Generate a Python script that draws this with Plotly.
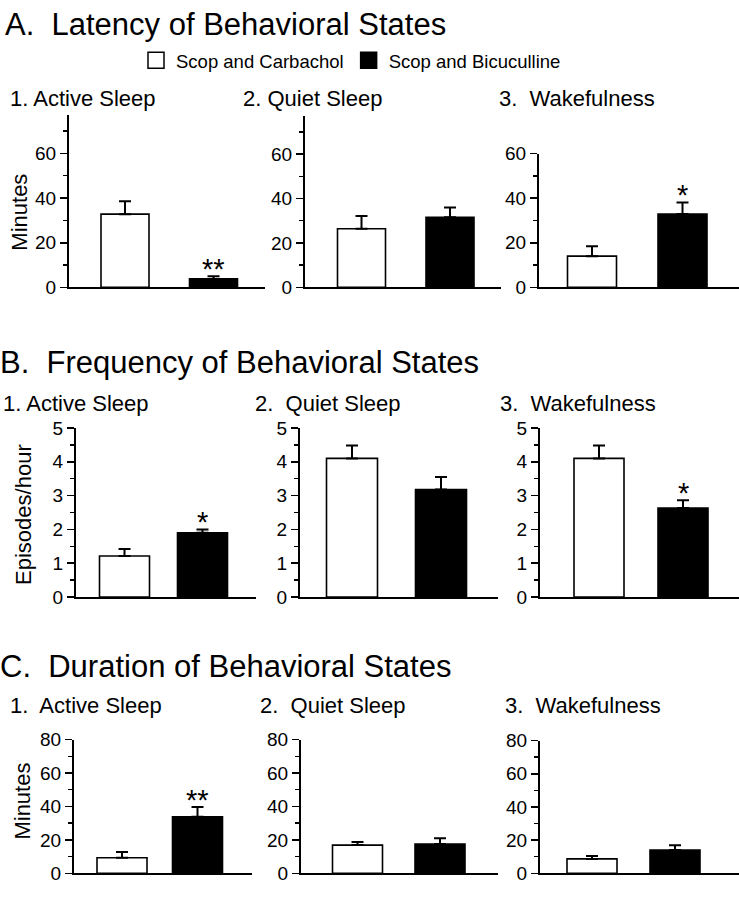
import plotly.graph_objects as go

W, H = 739, 899
FONT = "Liberation Sans, Arial, Helvetica, sans-serif"

# ---------------- data ----------------
groups = ["Scop and Carbachol", "Scop and Bicuculline"]
bar_colors = ["white", "black"]

latency_titles = ["1. Active Sleep", "2. Quiet Sleep", "3.\u00a0 Wakefulness"]
latency_mean = [[32.8, 3.8], [26.4, 31.6], [14.0, 32.9]]
latency_sem = [[5.8, 1.2], [5.7, 4.4], [4.4, 5.2]]
latency_sig = [["", "**"], ["", ""], ["", "*"]]

freq_titles = ["1. Active Sleep", "2.\u00a0 Quiet Sleep", "3.\u00a0 Wakefulness"]
freq_mean = [[1.21, 1.90], [4.10, 3.18], [4.10, 2.63]]
freq_sem = [[0.21, 0.10], [0.38, 0.37], [0.38, 0.23]]
freq_sig = [["", "*"], ["", ""], ["", "*"]]

dur_titles = ["1.\u00a0 Active Sleep", "2.\u00a0 Quiet Sleep", "3.\u00a0 Wakefulness"]
dur_mean = [[9.3, 33.8], [16.9, 17.5], [8.7, 14.0]]
dur_sem = [[3.5, 5.9], [1.8, 3.5], [1.8, 2.9]]
dur_sig = [["", "**"], ["", ""], ["", ""]]

panel_titles = ["A.\u00a0 Latency of Behavioral States",
                "B.\u00a0 Frequency of Behavioral States",
                "C.\u00a0 Duration of Behavioral States"]
y_titles = ["Minutes", "Episodes/hour", "Minutes"]

# ---------------- layout (pixel geometry) ----------------
rows = [
    dict(means=latency_mean, sems=latency_sem, sig=latency_sig, sub=latency_titles,
         zero=284, dtick=20, minor=10,
         cols=[dict(l=69, r=265, c1=125, c2=213.5, w=48, top=108, ymax=77),
               dict(l=305, r=501, c1=361.5, c2=450, w=48, top=109, ymax=77),
               dict(l=539, r=739, c1=592, c2=682.5, w=49, top=147, ymax=60)],
         title_xy=(3, 15), sub_y=91, sub_x=[8, 241, 497],
         ytitle_xy=(19.5, 207)),
    dict(means=freq_mean, sems=freq_sem, sig=freq_sig, sub=freq_titles,
         zero=601, dtick=1, minor=0.5,
         cols=[dict(l=76, r=256, c1=124.5, c2=202.5, w=50, top=428, ymax=5),
               dict(l=300, r=498, c1=352, c2=441, w=51, top=428, ymax=5),
               dict(l=540, r=739, c1=599, c2=683, w=50, top=428, ymax=5)],
         title_xy=(-2, 361), sub_y=403, sub_x=[1, 253, 498],
         ytitle_xy=(24, 517)),
    dict(means=dur_mean, sems=dur_sem, sig=dur_sig, sub=dur_titles,
         zero=884, dtick=20, minor=10,
         cols=[dict(l=74, r=252, c1=122, c2=197.5, w=50, top=747, ymax=80),
               dict(l=301, r=498, c1=357.5, c2=440, w=50, top=747, ymax=80),
               dict(l=540, r=739, c1=592, c2=675, w=50, top=748, ymax=80)],
         title_xy=(-2, 672), sub_y=712, sub_x=[8, 258, 503],
         ytitle_xy=(22.5, 810)),
]

def px_x(p):
    return p / W

def px_y(p):
    return 1 - p / H

fig = go.Figure()
layout = dict(width=W, height=H, margin=dict(l=0, r=0, t=0, b=0),
              paper_bgcolor="white", plot_bgcolor="white",
              font=dict(family=FONT, color="black"),
              showlegend=True, bargap=0)
annotations = []

positions = [1, 2]
k = 0
for ri, row in enumerate(rows):
    for ci, col in enumerate(row["cols"]):
        k += 1
        xa = "x" if k == 1 else f"x{k}"
        ya = "y" if k == 1 else f"y{k}"
        unit = col["c2"] - col["c1"]
        x0 = 1 - (col["c1"] - col["l"]) / unit
        x1 = 2 + (col["r"] - col["c2"]) / unit
        means = row["means"][ci]
        sems = row["sems"][ci]
        fig.add_trace(go.Bar(
            x=positions, y=means, width=col["w"] / unit,
            marker=dict(color=bar_colors, line=dict(color="black", width=1.6)),
            error_y=dict(type="data", symmetric=False, array=sems,
                         arrayminus=[0, 0], color="black", thickness=2, width=6),
            xaxis=xa, yaxis=ya, showlegend=False, hoverinfo="skip"))
        layout["xaxis" if k == 1 else f"xaxis{k}"] = dict(
            domain=[px_x(col["l"]), px_x(col["r"])], range=[x0, x1],
            anchor=ya, showline=True, linecolor="black", linewidth=2,
            showticklabels=False, ticks="", showgrid=False, zeroline=False,
            fixedrange=True)
        layout["yaxis" if k == 1 else f"yaxis{k}"] = dict(
            domain=[px_y(row["zero"]), px_y(col["top"])], range=[0, col["ymax"]],
            anchor=xa, showline=True, linecolor="black", linewidth=2,
            ticks="outside", ticklen=7, tickwidth=1.6, tickcolor="black",
            dtick=row["dtick"], tick0=0,
            minor=dict(dtick=row["minor"], ticks="outside", ticklen=4,
                       tickwidth=1.4, tickcolor="black", showgrid=False),
            tickfont=dict(size=19, family=FONT, color="black"),
            showgrid=False, zeroline=False, fixedrange=True)
        # significance marks
        for pi, s in enumerate(row["sig"][ci]):
            if s:
                annotations.append(dict(
                    x=positions[pi], y=means[pi] + sems[pi], xref=xa, yref=ya,
                    text=s, showarrow=False, yanchor="bottom", yshift=-11,
                    font=dict(size=29, family=FONT, color="black")))
        # sub-panel titles
        annotations.append(dict(
            x=px_x(row["sub_x"][ci]), y=px_y(row["sub_y"]), xref="paper", yref="paper",
            text=row["sub"][ci], showarrow=False, xanchor="left", yanchor="middle",
            font=dict(size=22, family=FONT, color="black")))
    # panel title
    tx, ty = row["title_xy"]
    annotations.append(dict(
        x=px_x(tx), y=px_y(ty), xref="paper", yref="paper", text=panel_titles[ri],
        showarrow=False, xanchor="left", yanchor="middle",
        font=dict(size=31, family=FONT, color="black")))
    # y axis title
    yx, yy = row["ytitle_xy"]
    annotations.append(dict(
        x=px_x(yx), y=px_y(yy), xref="paper", yref="paper", text=y_titles[ri],
        showarrow=False, xanchor="center", yanchor="middle", textangle=-90,
        font=dict(size=22, family=FONT, color="black")))

# legend entries
for name, color in zip(groups, bar_colors):
    fig.add_trace(go.Scatter(
        x=[None], y=[None], mode="markers", name=name,
        marker=dict(symbol="square", size=16, color=color,
                    line=dict(color="black", width=1.5)),
        xaxis="x", yaxis="y", showlegend=True))

layout["legend"] = dict(orientation="h", x=px_x(136), y=px_y(52),
                        xanchor="left", yanchor="middle", itemsizing="trace",
                        font=dict(size=18.5, family=FONT, color="black"),
                        bgcolor="rgba(0,0,0,0)", tracegroupgap=0)
layout["annotations"] = annotations
fig.update_layout(**layout)

page_fix = (
    "document.documentElement.style.margin='0';"
    "document.documentElement.style.overflow='hidden';"
    "document.body.style.margin='0';"
    "document.body.style.overflow='hidden';"
    "var gd=document.getElementById('{plot_id}');"
    "gd.style.position='fixed';gd.style.left='0px';gd.style.top='0px';"
)
fig.write_html("out.html", post_script=page_fix,
               config={"displayModeBar": False, "staticPlot": True})
